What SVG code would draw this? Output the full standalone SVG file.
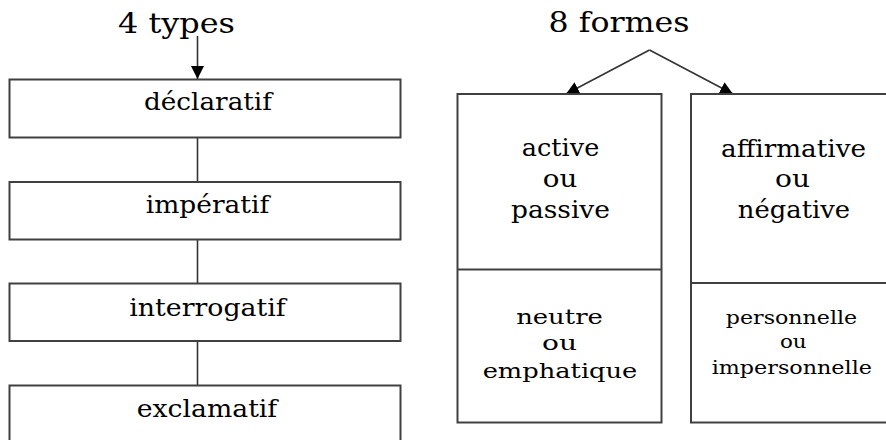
<svg xmlns="http://www.w3.org/2000/svg" width="886" height="440" viewBox="0 0 886 440">
  <defs>
    <marker id="arrow" markerUnits="userSpaceOnUse" markerWidth="13" markerHeight="13" viewBox="0 0 13 13" refX="13" refY="6.5" orient="auto">
      <path d="M0,0 L13,6.5 L0,13 z" fill="#000"/>
    </marker>
    <style>
      .box { fill: #fff; stroke: #404040; stroke-width: 2; }
      .div { stroke: #404040; stroke-width: 2; fill: none; }
      .conn { stroke: #333; stroke-width: 1.6; fill: none; }
      .lbl { font-family: "DejaVu Serif", "Liberation Serif", serif; fill: #000; text-anchor: middle; }
      .title { font-size: 28px; }
      .t1 { font-size: 24px; }
      .t2 { font-size: 21px; }
      .t3 { font-size: 19px; }
    </style>
  </defs>
  <rect width="886" height="440" fill="#fff"/>

  <g id="title-types"><text class="lbl title" x="176.5" y="33" textLength="117" lengthAdjust="spacingAndGlyphs">4 types</text></g>
  <g id="title-formes"><text class="lbl title" x="619" y="32" textLength="141" lengthAdjust="spacingAndGlyphs">8 formes</text></g>

  <g id="connectors">
    <line class="conn" x1="197.5" y1="36" x2="197.5" y2="79" marker-end="url(#arrow)"/>
    <line class="conn" x1="197.5" y1="138" x2="197.5" y2="182"/>
    <line class="conn" x1="197.5" y1="239.5" x2="197.5" y2="283.5"/>
    <line class="conn" x1="197.5" y1="341" x2="197.5" y2="385.5"/>
    <line class="conn" x1="649.5" y1="50" x2="566" y2="94" marker-end="url(#arrow)"/>
    <line class="conn" x1="649.5" y1="50" x2="733" y2="94" marker-end="url(#arrow)"/>
  </g>

  <g id="declaratif">
    <rect class="box" x="9.5" y="79.5" width="391" height="58"/>
    <text class="lbl t1" x="208" y="110" textLength="128" lengthAdjust="spacingAndGlyphs">déclaratif</text>
  </g>
  <g id="imperatif">
    <rect class="box" x="9.5" y="182" width="391" height="57.5"/>
    <text class="lbl t1" x="207.5" y="213" textLength="123.5" lengthAdjust="spacingAndGlyphs">impératif</text>
  </g>
  <g id="interrogatif">
    <rect class="box" x="9.5" y="283.5" width="391" height="57.5"/>
    <text class="lbl t1" x="207.5" y="315.5" textLength="156.5" lengthAdjust="spacingAndGlyphs">interrogatif</text>
  </g>
  <g id="exclamatif">
    <rect class="box" x="9.5" y="385.5" width="391" height="80"/>
    <text class="lbl t1" x="207" y="416.5" textLength="140.5" lengthAdjust="spacingAndGlyphs">exclamatif</text>
  </g>

  <g id="active-passive">
    <rect class="box" x="457.5" y="94" width="204" height="328.5"/>
    <line class="div" x1="457.5" y1="269.5" x2="661.5" y2="269.5"/>
    <text class="lbl t1" x="560.5" y="156" textLength="77.5" lengthAdjust="spacingAndGlyphs">active</text>
    <text class="lbl t1" x="560" y="187" textLength="34.5" lengthAdjust="spacingAndGlyphs">ou</text>
    <text class="lbl t1" x="560.5" y="218" textLength="99" lengthAdjust="spacingAndGlyphs">passive</text>
    <text class="lbl t2" x="559.5" y="324" textLength="86.7" lengthAdjust="spacingAndGlyphs">neutre</text>
    <text class="lbl t2" x="559.5" y="350" textLength="35" lengthAdjust="spacingAndGlyphs">ou</text>
    <text class="lbl t2" x="560" y="378" textLength="154.7" lengthAdjust="spacingAndGlyphs">emphatique</text>
  </g>

  <g id="affirmative-negative">
    <rect class="box" x="691" y="94" width="210" height="328.5"/>
    <line class="div" x1="691" y1="283" x2="886" y2="283"/>
    <text class="lbl t1" x="793.5" y="157" textLength="145" lengthAdjust="spacingAndGlyphs">affirmative</text>
    <text class="lbl t1" x="792.5" y="187" textLength="35" lengthAdjust="spacingAndGlyphs">ou</text>
    <text class="lbl t1" x="794" y="218" textLength="112.3" lengthAdjust="spacingAndGlyphs">négative</text>
    <text class="lbl t3" x="791.5" y="323.5" textLength="131.3" lengthAdjust="spacingAndGlyphs">personnelle</text>
    <text class="lbl t3" x="793.3" y="347.5" textLength="26.7" lengthAdjust="spacingAndGlyphs">ou</text>
    <text class="lbl t3" x="791.8" y="374" textLength="160.3" lengthAdjust="spacingAndGlyphs">impersonnelle</text>
  </g>
</svg>
